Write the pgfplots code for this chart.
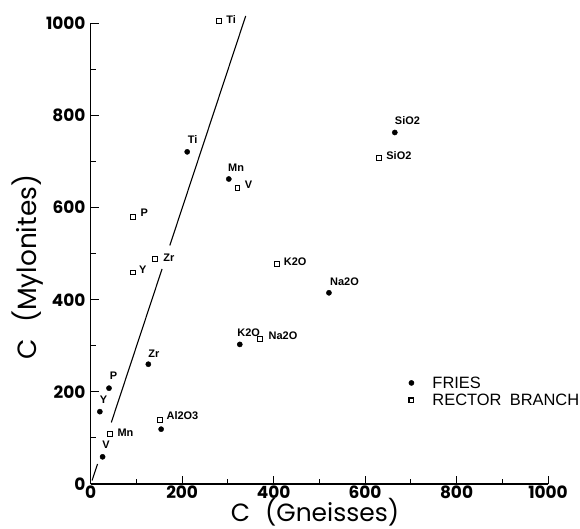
\documentclass[border=0pt]{standalone}
\usepackage{fontspec}
\setmainfont{Liberation Sans}
\newfontfamily\popfont{Poppins}
\usepackage{pgfplots}
\pgfplotsset{compat=1.18}

\begin{document}
\begin{tikzpicture}
\path[use as bounding box] (-90.7bp,-45bp) rectangle (489.3bp,484bp);
\begin{axis}[
  at={(0,0)}, anchor=south west,
  scale only axis, width=457.3bp, height=460.7bp,
  xmin=0, xmax=1000, ymin=0, ymax=1000,
  clip=false,
  axis lines=left,
  axis line style={-, line width=1.3bp, black},
  xtick={0,200,...,1000}, ytick={0,200,...,1000},
  minor tick num=1,
  tick align=inside,
  major tick length=8bp, minor tick length=5bp,
  tick style={line width=1bp, black},
  /pgf/number format/assume math mode=true,
  /pgf/number format/set thousands separator={},
  ticklabel style={font=\popfont\bfseries\fontsize{17}{17}\selectfont},
  xticklabel style={inner sep=1.5bp},
  yticklabel style={inner sep=5bp},
  xlabel={C\hspace{0.6em}(Gneisses)},
  ylabel={C\hspace{0.6em}(Mylonites)},
  label style={font=\popfont\fontsize{26.5}{26.5}\selectfont, inner sep=0pt},
  xlabel style={font=\popfont\fontsize{25}{25}\selectfont, at={(axis description cs:0.4905,-0.0605)}, anchor=center},
  ylabel style={at={(axis description cs:-0.137,0.471)}, anchor=center},
  legend style={draw=none, fill=none, at={(axis description cs:0.6877,0.2388)},
    anchor=north west, inner sep=0pt, row sep=0pt,
    font=\fontsize{16.5}{16.5}\selectfont,
    cells={anchor=west, text height=12bp, text depth=0bp, inner ysep=4bp, inner xsep=5.5bp}},
  legend image code/.code={\path (0bp,0bp) (24bp,0bp); \draw[#1] plot coordinates {(5.5bp,0bp)};},
]
% FRIES
\addplot[only marks, mark=*, mark size=2.6bp, black] coordinates {
  (211,721) (302,662) (326,303) (521,415) (126,260)
  (40,208) (20,157) (154,119) (26,59) (665,763)
};
\addlegendentry{FRIES}
% RECTOR BRANCH
\addplot[only marks, mark=square, mark size=2.4bp, black, line width=1.1bp] coordinates {
  (280,1005) (321,642) (92.5,580) (92.5,459) (140.6,488)
  (407,478) (370,314) (152,139) (42,108) (630,707)
};
\addlegendentry{RECTOR\hspace{0.5em}BRANCH}
% regression line (broken at labels)
\addplot[black, line width=1.1bp, no marks, forget plot] coordinates {(3,7.5) (15,43.5)};
\addplot[black, line width=1.1bp, no marks, forget plot] coordinates {(45,133.5) (156,466.7)};
\addplot[black, line width=1.1bp, no marks, forget plot] coordinates {(173,517.7) (339,1016)};
% point labels
\begin{scope}[every node/.style={font=\bfseries\fontsize{11}{11}\selectfont, inner sep=0pt}]
\node at (axis cs:307,1009) {Ti};
\node at (axis cs:223,747) {Ti};
\node at (axis cs:318,686) {Mn};
\node at (axis cs:345,649) {V};
\node at (axis cs:117,588) {P};
\node at (axis cs:114,465) {Y};
\node at (axis cs:171,492) {Zr};
\node at (axis cs:447,482) {K2O};
\node at (axis cs:345.5,328) {K2O};
\node at (axis cs:420.5,321) {Na2O};
\node at (axis cs:138,282) {Zr};
\node at (axis cs:50,234) {P};
\node at (axis cs:28,182) {Y};
\node at (axis cs:200.7,147.6) {Al2O3};
\node at (axis cs:76,110.7) {Mn};
\node at (axis cs:33.5,84.7) {V};
\node at (axis cs:692.7,788) {SiO2};
\node at (axis cs:674,713) {SiO2};
\node at (axis cs:555,438) {Na2O};
\end{scope}
\end{axis}
\end{tikzpicture}
\end{document}
